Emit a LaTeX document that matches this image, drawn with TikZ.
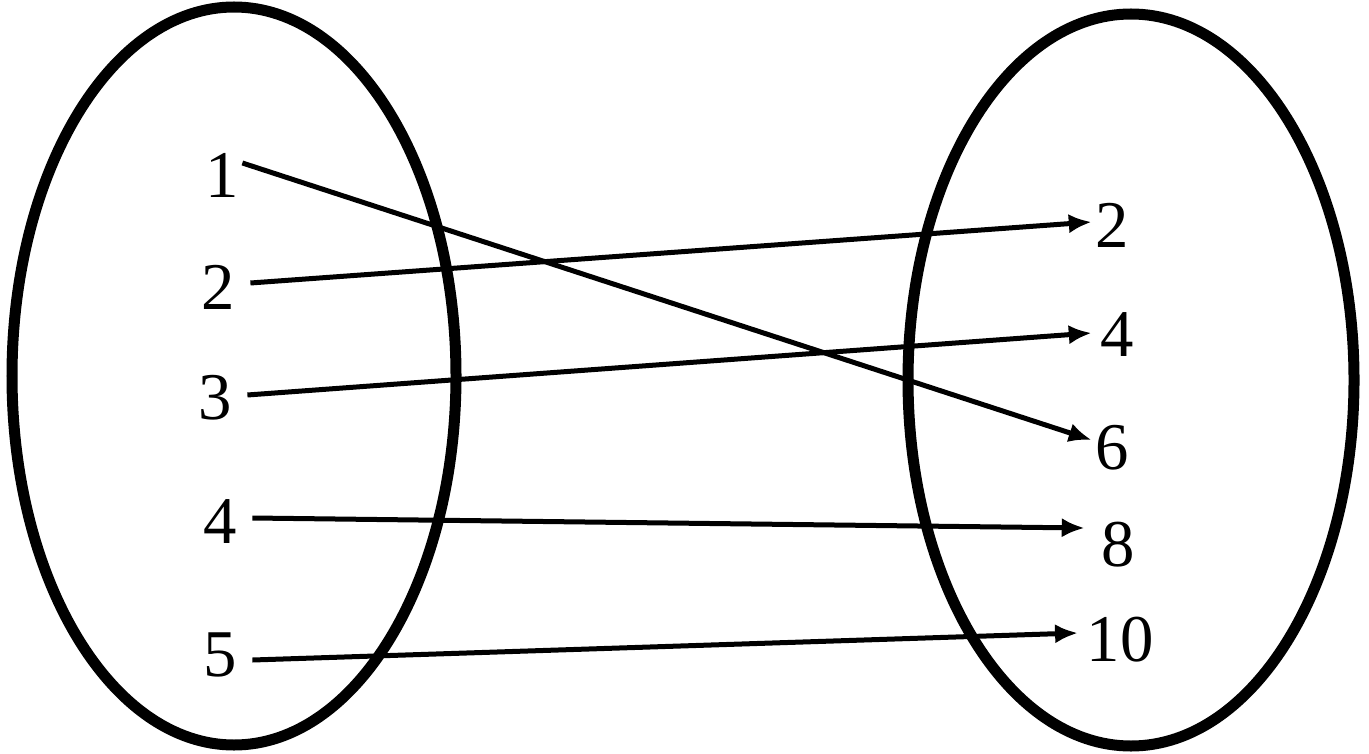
\documentclass[tikz,border=0pt]{standalone}
\usepackage{fontspec}
\setmainfont{Liberation Serif}
\usetikzlibrary{arrows.meta,positioning}

\begin{document}
\begin{tikzpicture}[
        num/.style={inner sep=0.03cm, font=\fontsize{19}{22}\selectfont},
        set/.style={line width=0.11cm},
        arrow/.style={-{Latex[length=6.5pt,width=5.5pt]}, line width=0.05cm}
    ]
        \useasboundingbox (0,0) rectangle (13.69,7.53);
        % the two sets
        \draw[set] (2.34,3.77) ellipse [x radius=2.22cm, y radius=3.69cm];
        \draw[set] (11.31,3.73) ellipse [x radius=2.23cm, y radius=3.66cm];
        % domain
        \node[num] (a1) at (2.22,5.78) {1};
        \node[num] (a2) at (2.18,4.66) {2};
        \node[num] (a3) at (2.15,3.55) {3};
        \node[num] (a4) at (2.20,2.31) {4};
        \node[num] (a5) at (2.20,0.98) {5};
        % images
        \node[num] (b2) at (11.12,5.28) {2};
        \node[num] (b4) at (11.17,4.18) {4};
        \node[num] (b6) at (11.12,3.05) {6};
        \node[num] (b8) at (11.18,2.08) {8};
        \node[num] (b10) at (11.20,1.13) {10};
        \draw[arrow] ([yshift=0.12cm]a1.east) -- ([yshift=0.08cm]b6.west);
        \draw[arrow] ([xshift=0.12cm,yshift=0.04cm]a2.east) -- ([yshift=0.03cm]b2.west);
        \draw[arrow] ([xshift=0.12cm,yshift=0.03cm]a3.east) -- ([xshift=-0.05cm,yshift=0.02cm]b4.west);
        \draw[arrow] ([xshift=0.12cm,yshift=0.04cm]a4.east) -- ([xshift=-0.13cm,yshift=0.17cm]b8.west);
        \draw[arrow] ([xshift=0.12cm,yshift=-0.05cm]a5.east) -- ([xshift=-0.05cm,yshift=0.07cm]b10.west);
    \end{tikzpicture}
\end{document}
